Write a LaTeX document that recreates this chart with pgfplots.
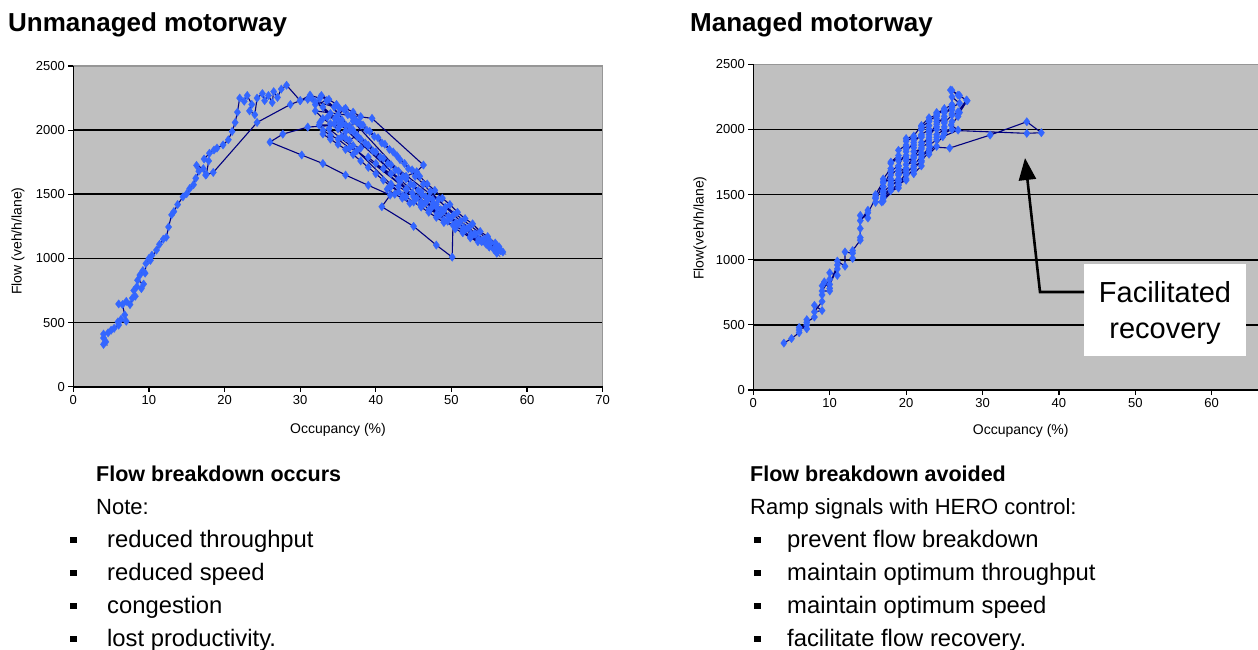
\documentclass[border=0pt]{standalone}
\usepackage{fontspec}
\setmainfont{Liberation Sans}
\usepackage{pgfplots}
\usepackage{pgfplotstable}
\pgfplotsset{compat=1.18}
\usetikzlibrary{arrows.meta}
\definecolor{plotbg}{RGB}{192,192,192}
\definecolor{navyline}{RGB}{0,0,128}
\definecolor{markblue}{RGB}{51,102,255}
\definecolor{framegray}{RGB}{150,150,150}
\newcommand\fs[1]{\fontsize{#1}{#1}\selectfont}

\pgfplotstableread{
occ flow
4 330
4 380
4.3 350
4 410
4.6 420
5 440
5.4 455
6 480
6.3 525
5.9 505
7 510
6.8 560
6.5 640
6 645
7 665
7.5 640
7.8 690
8.2 705
8 750
8.4 780
9 765
9.3 800
8.5 830
8.8 870
9.2 905
9.5 885
9.6 960
10 1000
10.4 1025
10.2 985
11 1065
11.4 1110
11.9 1150
12.3 1165
12.6 1245
13 1340
13.3 1365
13.8 1420
14.5 1480
15 1505
15.4 1545
15.9 1575
16.2 1625
16.6 1680
16.3 1725
17.2 1700
17.6 1655
17.9 1760
17.3 1775
18 1820
18.6 1845
19 1860
19.8 1885
20.5 1925
21 1990
21.4 2060
21.7 2140
22 2250
22.6 2225
23 2270
23.6 2200
23.3 2150
24 2120
24.3 2250
25 2285
25.3 2230
25.8 2270
26.3 2215
26.5 2300
27 2255
27.5 2320
28.2 2350
30 2230
31.3 2273
32.6 2248
32 2200
33.5 2230
34.5 2180
35 2120
36 2170
37 2140
38 2105
37.5 2060
36.5 2030
35.5 2080
34.5 2050
33.8 2010
44 1540
45 1480
46.5 1430
47.5 1460
48 1400
37 2000
36 1990
35.5 1950
36.5 1920
37.5 1960
38 2040
37 2070
49 1300
50.5 1250
51.5 1220
52.5 1170
54 1130
55 1110
56 1080
56.8 1050
56 1100
55 1140
39 1880
38 1860
37 1880
36 1940
35 2010
34 2050
33 2090
32 2150
39.5 2092
46.3 1728
45.4 1676
44 1640
43 1620
42 1660
41 1700
40 1740
39 1790
46 1440
47 1380
48.5 1340
49.5 1290
50.5 1230
51.5 1200
52.5 1160
53.5 1130
55 1090
56.5 1060
43 1560
42 1580
41.5 1540
42.5 1500
43.5 1470
44.5 1430
37.5 1840
36.5 1860
35 1930
34 1960
33 2000
32.5 2040
35.3 2040
31 2024
27.7 1969
26 1907
30.2 1806
33 1740
36 1650
39 1570
41.9 1494
40.8 1403
45 1250
48 1104
50.1 1010
50.2 1260
49 1280
48 1320
47 1360
46 1400
45 1440
44 1480
43 1520
42 1560
41 1610
40 1660
39 1710
38 1760
37 1810
36 1850
35 1890
34 1930
33 1970
32.6 2060
33.6 2100
34.6 2090
35.6 2050
36.6 2000
37.6 1950
38.6 1900
39.6 1840
40.6 1790
41.6 1740
42.6 1690
43.6 1640
44.6 1580
45.6 1530
46.6 1480
47.6 1430
48.6 1380
49.6 1330
50.6 1280
51.6 1240
52.6 1190
53.6 1150
54.6 1110
55.6 1070
56 1040
55 1090
54 1140
53 1190
52 1230
51 1270
50 1320
49 1370
48 1420
47 1470
46 1520
45 1570
44 1620
43 1680
42 1730
41 1780
40 1830
39 1880
38 1930
37 1990
36 2040
35 2080
34 2130
33 2180
32 2220
31 2240
35.2 2170
36.3 2120
37.2 2090
38.3 2040
39.2 1990
40.3 1940
41.2 1890
42.3 1830
43.2 1770
44.3 1700
45.2 1640
46.3 1580
47.2 1520
48.3 1460
49.2 1400
50.3 1340
51.2 1290
52.3 1240
53.2 1190
54.3 1150
55.2 1120
56.3 1090
55.8 1120
54.8 1170
53.8 1210
52.8 1270
51.8 1310
50.8 1360
49.8 1420
48.8 1470
47.8 1530
46.8 1580
45.8 1640
44.8 1690
43.8 1740
42.8 1800
41.8 1850
40.8 1900
39.8 1950
38.8 2000
37.8 2060
36.8 2110
35.8 2160
34.8 2200
33.8 2240
32.8 2270
43.2 1600
44.1 1540
43.6 1490
44.8 1510
45.4 1470
46.1 1500
45.9 1420
46.8 1450
47.3 1390
48.1 1350
31.5 2250
30 2230
28.7 2200
24.3 2060
18.5 1670
17.5 1650
}\unmanaged

\pgfplotstableread{
occ flow
4 360
5 395
6 440
6 480
7 470
7 540
7 500
6 460
7 520
8 560
8 650
9 610
8 600
9 680
9 730
9 800
9.3 830
10 780
10 760
9 760
10 850
10 900
11 880
11 930
10 810
11 960
11 990
12 950
12 1060
13 1050
13 1010
13 1070
14 1150
14 1170
14 1240
14 1340
15 1320
15 1380
14 1300
15 1360
16 1470
16 1500
17 1600
16 1440
17 1450
17 1500
18 1550
18 1600
19 1620
19 1680
20 1700
20 1760
21 1780
21 1830
22 1850
22 1900
23 1920
23 1980
24 2000
24 2060
25 2080
25 2130
26 2150
26 2190
26 2300
27 2260
28 2220
27 2130
26 2110
25 2050
25 2000
24 1960
24 1920
23 1880
23 1830
22 1800
22 1750
21 1720
21 1680
20 1650
20 1610
19 1580
19 1550
18 1530
18 1580
18 1650
19 1700
19 1760
20 1800
20 1850
21 1880
21 1920
22 1950
22 2000
23 2030
23 2070
24 2100
24 2130
25 2150
25 2100
24 2040
23 1960
23 1900
22 1860
22 1820
21 1790
21 1750
20 1730
20 1680
19 1650
19 1600
18 1570
17 1520
17 1480
17 1560
17 1620
18 1700
18 1750
19 1800
19 1840
20 1880
20 1930
21 1950
22 2030
23 2090
24 2110
25 2160
26 2187
17 1470
17 1530
17 1590
18 1620
18 1680
18 1740
19 1780
19 1720
19 1660
19 1610
20 1620
20 1700
20 1780
20 1860
20 1910
21 1940
21 1860
21 1800
21 1700
21 1660
22 1720
22 1780
22 1880
22 1940
22 2020
23 2060
23 2000
23 1940
23 1850
23 1810
24 1870
24 1940
24 2020
24 2080
24 2120
25 2140
25 2060
25 2020
25 1970
26 2000
26 2060
26 2120
26 2170
27 2200
26 2250
25.8 2302
26.8 2264
27.9 2226
26.8 2136
26.8 2100
25.9 2034
26.8 1995
24.8 1944
22 1760
19 1570
16.8 1443
20 1660
23.1 1867
25.7 1857
31 1957
35.8 2059
37.7 1975
35.8 1970
23 2000
22 1960
21 1900
20 1830
19 1720
18 1680
17 1560
16 1480
}\managed

\pgfplotsset{
  flowaxis/.style={
    scale only axis, anchor=south west,
    ymin=0, ymax=2500, ytick={0,500,...,2500},
    axis background/.style={fill=plotbg},
    axis line style={draw=none},
    ymajorgrids, major grid style={black, line width=1.6pt},
    tick align=outside, tick pos=left,
    major tick length=5pt,
    tick style={black, line width=1.2pt},
    /pgf/number format/1000 sep={},
    /pgf/number format/assume math mode=true,
    tick label style={font=\fs{13}},
    label style={font=\fs{14}},
    clip mode=individual,
  },
  flowseries/.style={navyline, line width=1.1pt, mark=diamond*, mark size=4.2pt,
    mark options={fill=markblue, draw=markblue, line width=0.3pt}},
}

\begin{document}
\begin{tikzpicture}
\path[use as bounding box] (0pt,0pt) rectangle (1258pt,-650pt);

% ---------- left chart ----------
\begin{axis}[flowaxis,
  at={(73.3pt,-386.7pt)}, width=529.4pt, height=320.7pt,
  xmin=0, xmax=70, xtick={0,10,...,70},
  xlabel={Occupancy (\%)}, ylabel={Flow (veh/h/lane)},
  xlabel style={at={(axis cs:35,0)}, anchor=center, yshift=-43pt},
  ylabel style={at={(rel axis cs:-0.1045,0.454)}, anchor=center},
]
\addplot[flowseries] table[x=occ, y=flow] {\unmanaged};
\draw[framegray, line width=1.5pt] (rel axis cs:0,1) -- (rel axis cs:1,1) -- (rel axis cs:1,0);
\draw[black, line width=1.5pt] (rel axis cs:0,1) -- (rel axis cs:0,0) -- (rel axis cs:1,0);
\end{axis}

% ---------- right chart ----------
\begin{axis}[flowaxis,
  at={(753.3pt,-390pt)}, width=504.7pt, height=325.7pt,
  xmin=0, xmax=66.06, xtick={0,10,...,60},
  xlabel={Occupancy (\%)}, ylabel={Flow(veh/h/lane)},
  xlabel style={at={(axis cs:35,0)}, anchor=center, yshift=-41pt},
  ylabel style={at={(rel axis cs:-0.1056,0.497)}, anchor=center},
]
\addplot[flowseries] table[x=occ, y=flow] {\managed};
\draw[framegray, line width=1.5pt] (rel axis cs:0,1) -- (rel axis cs:1,1);
\draw[black, line width=1.5pt] (rel axis cs:0,1) -- (rel axis cs:0,0) -- (rel axis cs:1,0);
\end{axis}

% annotation
\path[fill=white] (1084pt,-264pt) rectangle (1246pt,-356pt);
\node[align=center, font=\fs{29}, inner sep=0pt] at (1165pt,-313pt)
      {Facilitated\\[7pt]recovery};
\draw[black, line width=2.6pt, -{Triangle[length=22pt,width=17pt]}]
  (1084pt,-292pt) -- (1040pt,-292pt) -- (1025pt,-158pt);

% titles
\node[anchor=base west, inner sep=0pt] at (8pt,-32pt) {\fs{26}\bfseries Unmanaged motorway};
\node[anchor=base west, inner sep=0pt] at (690pt,-32pt) {\fs{26}\bfseries Managed motorway};

% left text
\node[anchor=base west, inner sep=0pt] at (96pt,-481pt) {\fs{21.5}\bfseries Flow breakdown occurs};
\node[anchor=base west, inner sep=0pt] at (96pt,-514pt) {\fs{22}Note:};
\foreach \t [count=\i] in {reduced throughput, reduced speed, congestion, lost productivity.}{
  \fill (70pt,{-547pt-33pt*(\i-1)+4pt}) rectangle ++(6.5pt,6.5pt);
  \node[anchor=base west, inner sep=0pt] at (107pt,{-547pt-33pt*(\i-1)}) {\fs{23.8}\t};
}

% right text
\node[anchor=base west, inner sep=0pt] at (750pt,-481pt) {\fs{21.5}\bfseries Flow breakdown avoided};
\node[anchor=base west, inner sep=0pt] at (750pt,-514pt) {\fs{22}Ramp signals with HERO control:};
\foreach \t [count=\i] in {prevent flow breakdown, maintain optimum throughput, maintain optimum speed, facilitate flow recovery.}{
  \fill (754pt,{-547pt-33pt*(\i-1)+4pt}) rectangle ++(6.5pt,6.5pt);
  \node[anchor=base west, inner sep=0pt] at (787pt,{-547pt-33pt*(\i-1)}) {\fs{23.8}\t};
}
\end{tikzpicture}
\end{document}
